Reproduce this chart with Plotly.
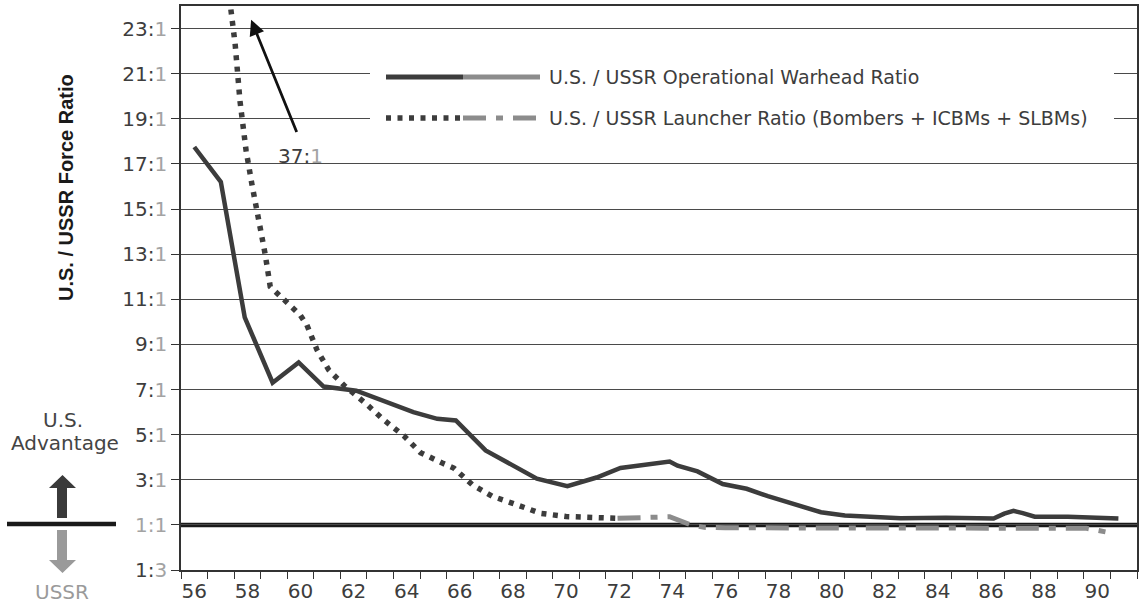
import plotly.graph_objects as go

# ---------------- data ----------------
warhead_years = [56.0, 57.0, 57.9, 58.95, 59.93, 60.87, 62.1, 63.1, 64.25, 65.15, 65.85,
                 66.97, 67.9, 68.9, 70.05, 71.15, 72.05, 72.95, 73.9, 74.2, 74.95, 75.9,
                 76.8, 77.6, 78.5, 79.6, 80.5, 81.4, 82.6, 84.3, 86.1, 86.5, 86.85, 87.2,
                 87.65, 88.9, 90.8]
warhead_ratio = [17.75, 16.2, 10.2, 7.3, 8.2, 7.13, 6.95, 6.5, 6.0, 5.7, 5.63,
                 4.3, 3.7, 3.05, 2.72, 3.1, 3.52, 3.67, 3.81, 3.62, 3.37, 2.81,
                 2.6, 2.27, 1.93, 1.56, 1.42, 1.36, 1.29, 1.32, 1.28, 1.5, 1.62, 1.52,
                 1.36, 1.36, 1.28]

launcher_years_us = [56.0, 57.54, 57.72, 57.95, 58.17, 58.42, 58.67, 58.86, 59.3, 59.68,
                     59.99, 60.24, 60.62, 61.06, 61.69, 62.44, 63.13, 63.89, 64.52, 65.34,
                     65.77, 66.47, 67.22, 68.17, 69.05, 70.0, 70.9, 71.94]
launcher_ratio_us = [37.0, 22.3, 19.8, 17.6, 16.1, 14.65, 13.0, 11.56, 11.04, 10.67,
                     10.3, 9.86, 8.76, 7.87, 7.13, 6.4, 5.66, 4.95, 4.2, 3.74,
                     3.52, 2.78, 2.27, 1.88, 1.51, 1.37, 1.33, 1.29]

launcher_years_late = [71.94, 73.3, 73.9, 74.7, 75.2, 76.0, 89.0, 89.6, 89.92, 90.6]
launcher_ratio_late = [1.29, 1.33, 1.36, 1.0, 0.89, 0.87, 0.87, 0.85, 0.78, 0.62]

y_tick_vals = [-1, 1, 3, 5, 7, 9, 11, 13, 15, 17, 19, 21, 23]
y_tick_dark = ["1:", "", "3:", "5:", "7:", "9:", "11:", "13:", "15:", "17:", "19:", "21:", "23:"]
y_tick_light = ["3", "1:1", "1", "1", "1", "1", "1", "1", "1", "1", "1", "1", "1"]
x_label_years = list(range(56, 91, 2))
x_label_text = [str(y) for y in x_label_years]
x_boundaries = [55.5 + i for i in range(37)]

legend_labels = ["U.S. / USSR Operational Warhead Ratio",
                 "U.S. / USSR Launcher Ratio (Bombers + ICBMs + SLBMs)"]

# ---------------- styling ----------------
FONT = "DejaVu Sans"
DARK = "#3c3c3c"
LIGHT = "#a3a3a3"
GRAYLINE = "#8c8c8c"
TXT = "#3d3d3d"
DOTS = "5px,6.5px"
DASHDOT = "23px,10px,7px,10px"

L, T, W, H = 181, 6, 956, 564


def px(x):
    return (x - L) / W


def py(y):
    return 1 - (y - T) / H


ticktext = [f'{d}<span style="color:{LIGHT}">{l}</span>' for d, l in zip(y_tick_dark, y_tick_light)]

fig = go.Figure()

fig.add_trace(go.Scatter(x=launcher_years_late, y=launcher_ratio_late, mode="lines",
                         line=dict(color=GRAYLINE, width=5, dash=DASHDOT),
                         showlegend=False, hoverinfo="skip"))
fig.add_trace(go.Scatter(x=launcher_years_us, y=launcher_ratio_us, mode="lines",
                         line=dict(color=DARK, width=5.5, dash=DOTS),
                         showlegend=False, hoverinfo="skip"))
fig.add_trace(go.Scatter(x=warhead_years, y=warhead_ratio, mode="lines",
                         line=dict(color=DARK, width=4.5),
                         showlegend=False, hoverinfo="skip"))

shapes = []
# parity line 1:1
shapes.append(dict(type="line", xref="paper", yref="y", x0=0, x1=1, y0=1, y1=1,
                   line=dict(color="#1a1a1a", width=4.5), layer="between"))
# legend background hiding gridlines
shapes.append(dict(type="rect", xref="paper", yref="paper", x0=px(370), x1=px(1114),
                   y0=py(140), y1=py(52), fillcolor="white", line=dict(width=0), layer="above"))
# legend samples
shapes.append(dict(type="line", xref="paper", yref="paper", x0=px(386), x1=px(463),
                   y0=py(77), y1=py(77), line=dict(color=DARK, width=5), layer="above"))
shapes.append(dict(type="line", xref="paper", yref="paper", x0=px(463), x1=px(540),
                   y0=py(77), y1=py(77), line=dict(color=GRAYLINE, width=5), layer="above"))
shapes.append(dict(type="line", xref="paper", yref="paper", x0=px(386), x1=px(461),
                   y0=py(118), y1=py(118), line=dict(color=DARK, width=5.5, dash=DOTS),
                   layer="above"))
shapes.append(dict(type="line", xref="paper", yref="paper", x0=px(463), x1=px(540),
                   y0=py(118), y1=py(118), line=dict(color=GRAYLINE, width=5, dash=DASHDOT),
                   layer="above"))
# left-side advantage indicator
shapes.append(dict(type="line", xref="paper", yref="paper", x0=px(7), x1=px(116),
                   y0=py(524), y1=py(524), line=dict(color="#1a1a1a", width=4.5)))


def arrow_path(pts):
    return "M " + " L ".join(f"{px(x):.5f},{py(y):.5f}" for x, y in pts) + " Z"


up = [(57, 518), (57, 488), (49, 488), (62.5, 475), (76, 488), (67, 488), (67, 518)]
dn = [(57, 530), (57, 560), (49, 560), (62.5, 573), (76, 560), (67, 560), (67, 530)]
shapes.append(dict(type="path", xref="paper", yref="paper", path=arrow_path(up),
                   fillcolor="#3a3a3a", line=dict(width=0)))
shapes.append(dict(type="path", xref="paper", yref="paper", path=arrow_path(dn),
                   fillcolor="#9a9a9a", line=dict(width=0)))

annotations = []
for lab, yy in zip(legend_labels, [77, 118]):
    annotations.append(dict(xref="paper", yref="paper", x=px(547), y=py(yy), text=lab,
                            showarrow=False, xanchor="left", yanchor="middle",
                            font=dict(family=FONT, size=19, color=TXT)))
annotations.append(dict(xref="paper", yref="paper", x=px(66), y=py(188),
                        text="<b>U.S. / USSR Force Ratio</b>", textangle=-90, showarrow=False,
                        xanchor="center", yanchor="middle",
                        font=dict(family="Liberation Sans", size=20, color="#1a1a1a")))
annotations.append(dict(xref="paper", yref="paper", x=px(63), y=py(420), text="U.S.",
                        showarrow=False, xanchor="center", yanchor="middle",
                        font=dict(family=FONT, size=20, color="#444444")))
annotations.append(dict(xref="paper", yref="paper", x=px(65), y=py(443), text="Advantage",
                        showarrow=False, xanchor="center", yanchor="middle",
                        font=dict(family=FONT, size=20, color="#444444")))
annotations.append(dict(xref="paper", yref="paper", x=px(62), y=py(592), text="USSR",
                        showarrow=False, xanchor="center", yanchor="middle",
                        font=dict(family=FONT, size=20, color="#9a9a9a")))
# 37:1 call-out
annotations.append(dict(xref="x", yref="y", x=58.14, y=23.39, ax=59.88, ay=18.35,
                        axref="x", ayref="y", text="", showarrow=True, arrowhead=2,
                        arrowsize=1.1, arrowwidth=2.8, arrowcolor="#111111"))
annotations.append(dict(xref="x", yref="y", x=59.99, y=17.33,
                        text=f'37:<span style="color:{LIGHT}">1</span>', showarrow=False,
                        xanchor="center", yanchor="middle",
                        font=dict(family=FONT, size=20, color=TXT)))

fig.update_layout(
    width=1139, height=606,
    margin=dict(l=L, r=1139 - L - W, t=T, b=606 - T - H, autoexpand=False),
    paper_bgcolor="white", plot_bgcolor="white",
    showlegend=False,
    shapes=shapes, annotations=annotations,
    font=dict(family=FONT, color=TXT),
)
fig.update_xaxes(range=[55.5, 91.5], tickmode="array", tickvals=x_label_years,
                 ticktext=x_label_text, ticks="", showgrid=False, zeroline=False,
                 automargin=False,
                 showline=True, linecolor="#333333", linewidth=1.5, mirror=True,
                 tickfont=dict(family=FONT, size=20, color=TXT), ticklabelstandoff=2,
                 minor=dict(tickmode="array", tickvals=x_boundaries, ticks="outside",
                            ticklen=7, tickwidth=1.3, tickcolor="#333333", showgrid=False))
fig.update_yaxes(range=[-1, 24], tickmode="array", tickvals=y_tick_vals, ticktext=ticktext,
                 ticks="outside", ticklen=8, tickwidth=1.3, tickcolor="#333333",
                 automargin=False,
                 showgrid=True, gridcolor="#4a4a4a", gridwidth=1.3, zeroline=False,
                 showline=True, linecolor="#333333", linewidth=1.5, mirror=True,
                 tickfont=dict(family=FONT, size=20, color=TXT))

fig.write_html("out.html", config={"displayModeBar": False},
               post_script="document.body.style.margin='0px';document.body.style.overflow='hidden';")
